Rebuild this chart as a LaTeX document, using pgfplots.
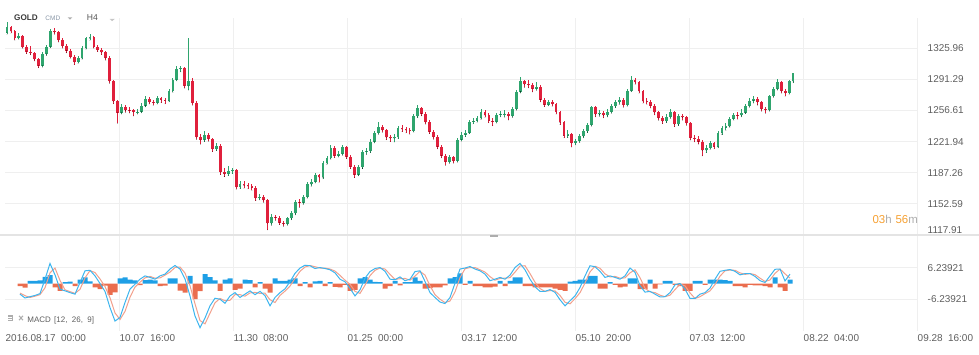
\documentclass[border=0pt]{standalone}
\usepackage{pgfplots}
\pgfplotsset{compat=1.18}
\usepackage{pgfplotstable}
\usepackage{fontspec}
\setmainfont{Liberation Sans}
\definecolor{gridc}{HTML}{EFEFEF}
\definecolor{sepc}{HTML}{E4E4E4}
\definecolor{upc}{HTML}{2FA56E}
\definecolor{dnc}{HTML}{E0203C}
\definecolor{macdc}{HTML}{3DB5EE}
\definecolor{sigc}{HTML}{F2A08C}
\definecolor{hpos}{HTML}{1E9FE6}
\definecolor{hneg}{HTML}{EA6D4E}
\definecolor{tickc}{HTML}{5E5E5E}
\definecolor{orangec}{HTML}{F6A031}
\definecolor{lgray}{HTML}{ADADAD}
\definecolor{hdrc}{HTML}{3A3A3A}
\definecolor{cmdc}{HTML}{8795A5}

\pgfplotstableread{
o h l c
1343.5 1355.6 1341.8 1349.7
1349.7 1351.3 1342.9 1345.2
1345.2 1346.8 1335.1 1337.4
1337.4 1342.6 1336.0 1339.7
1339.7 1341.2 1325.9 1327.4
1327.4 1329.9 1320.1 1322.2
1322.2 1328.4 1318.8 1320.7
1320.7 1322.3 1311.9 1313.5
1313.5 1315.2 1304.3 1306.8
1306.8 1321.4 1305.0 1319.6
1319.6 1330.0 1318.2 1327.8
1327.8 1347.9 1326.5 1345.2
1345.2 1348.7 1341.6 1344.0
1344.0 1345.3 1333.0 1335.2
1335.2 1337.4 1326.2 1328.5
1328.5 1330.6 1321.0 1323.5
1323.5 1325.1 1314.7 1316.3
1316.3 1318.9 1307.9 1310.7
1310.7 1317.2 1309.1 1314.8
1314.8 1328.1 1313.6 1326.3
1326.3 1339.0 1325.0 1336.9
1336.9 1341.6 1334.8 1338.9
1338.9 1340.2 1325.8 1327.4
1327.4 1329.5 1322.2 1324.1
1324.1 1326.8 1318.9 1321.3
1321.3 1322.7 1312.8 1315.2
1315.2 1316.9 1287.0 1289.5
1289.5 1291.0 1264.2 1266.7
1266.7 1268.3 1242.4 1254.4
1254.4 1263.5 1252.8 1260.6
1260.6 1262.4 1254.6 1256.9
1256.9 1260.1 1253.9 1256.7
1256.7 1258.4 1250.6 1255.0
1255.0 1258.2 1252.7 1255.5
1255.5 1264.6 1254.1 1262.2
1262.2 1272.9 1260.8 1270.0
1270.0 1271.7 1263.9 1266.1
1266.1 1268.6 1262.4 1265.3
1265.3 1273.2 1263.8 1270.6
1270.6 1272.0 1265.5 1268.4
1268.4 1270.9 1264.1 1267.6
1267.6 1280.1 1266.3 1278.4
1278.4 1293.0 1276.9 1291.2
1291.2 1306.4 1289.6 1302.9
1302.9 1306.0 1299.8 1303.5
1303.5 1305.1 1281.7 1284.0
1284.0 1337.4 1279.5 1289.0
1289.0 1293.1 1262.6 1265.0
1265.0 1267.2 1224.5 1227.1
1227.1 1230.4 1219.1 1223.8
1223.8 1233.6 1222.0 1228.8
1228.8 1231.2 1222.4 1224.9
1224.9 1226.3 1210.8 1213.7
1213.7 1220.8 1211.9 1217.6
1217.6 1219.0 1185.2 1188.1
1188.1 1192.8 1183.1 1185.9
1185.9 1194.5 1184.0 1189.2
1189.2 1193.0 1186.4 1189.8
1189.8 1191.3 1168.9 1171.4
1171.4 1178.0 1169.5 1175.3
1175.3 1177.6 1170.2 1173.1
1173.1 1176.3 1169.4 1172.5
1172.5 1174.9 1167.7 1170.8
1170.8 1172.2 1156.2 1159.1
1159.1 1163.3 1157.0 1160.5
1160.5 1162.8 1154.4 1156.9
1156.9 1158.3 1123.6 1130.9
1130.9 1141.0 1128.7 1138.5
1138.5 1140.6 1134.2 1137.4
1137.4 1139.3 1129.4 1131.8
1131.8 1134.0 1127.6 1130.2
1130.2 1138.4 1128.8 1136.3
1136.3 1144.6 1134.9 1141.9
1141.9 1157.1 1140.4 1155.2
1155.2 1158.0 1148.6 1153.9
1153.9 1162.6 1152.2 1160.3
1160.3 1176.5 1158.9 1174.2
1174.2 1180.4 1172.0 1177.5
1177.5 1187.0 1175.8 1184.8
1184.8 1186.4 1176.6 1182.0
1182.0 1200.3 1180.4 1198.1
1198.1 1206.0 1196.5 1203.4
1203.4 1217.8 1202.1 1214.9
1214.9 1216.6 1204.0 1206.5
1206.5 1211.4 1204.7 1208.2
1208.2 1218.3 1206.6 1215.8
1215.8 1217.2 1203.0 1205.2
1205.2 1206.8 1191.9 1194.2
1194.2 1195.9 1181.8 1185.3
1185.3 1196.2 1183.9 1193.6
1193.6 1212.9 1192.0 1210.6
1210.6 1215.1 1207.9 1211.5
1211.5 1224.6 1209.7 1222.1
1222.1 1233.9 1220.5 1231.6
1231.6 1243.4 1230.0 1238.6
1238.6 1241.0 1232.2 1234.9
1234.9 1236.5 1224.1 1226.6
1226.6 1229.8 1222.0 1225.7
1225.7 1230.4 1221.5 1227.0
1227.0 1239.2 1225.4 1236.8
1236.8 1240.3 1233.2 1236.0
1236.0 1238.1 1231.7 1234.9
1234.9 1237.5 1230.2 1233.8
1233.8 1252.4 1232.5 1250.0
1250.0 1262.7 1248.6 1258.9
1258.9 1260.5 1250.8 1253.3
1253.3 1255.0 1241.5 1243.8
1243.8 1245.6 1230.9 1233.2
1233.2 1235.0 1224.6 1227.1
1227.1 1228.9 1214.0 1216.5
1216.5 1218.2 1203.9 1206.2
1206.2 1207.8 1195.5 1199.3
1199.3 1207.3 1197.6 1204.3
1204.3 1206.2 1198.0 1200.4
1200.4 1226.0 1199.1 1224.3
1224.3 1232.4 1222.6 1229.7
1229.7 1234.8 1227.5 1232.1
1232.1 1246.6 1230.8 1244.3
1244.3 1248.7 1241.8 1245.5
1245.5 1251.0 1243.4 1248.3
1248.3 1258.2 1246.9 1254.6
1254.6 1256.7 1249.0 1251.6
1251.6 1253.5 1243.0 1245.4
1245.4 1248.0 1239.7 1244.2
1244.2 1254.3 1242.6 1252.0
1252.0 1256.1 1249.5 1252.8
1252.8 1256.9 1249.2 1253.3
1253.3 1255.4 1246.1 1250.5
1250.5 1260.8 1249.0 1258.3
1258.3 1279.5 1257.0 1277.8
1277.8 1294.0 1276.2 1289.0
1289.0 1291.2 1282.5 1285.8
1285.8 1290.6 1281.9 1285.1
1285.1 1287.0 1277.4 1280.8
1280.8 1287.9 1279.0 1283.4
1283.4 1284.9 1266.2 1268.9
1268.9 1271.0 1261.0 1263.3
1263.3 1268.9 1261.8 1266.1
1266.1 1268.2 1261.4 1263.9
1263.9 1265.3 1252.6 1255.0
1255.0 1256.6 1240.9 1243.3
1243.3 1245.0 1226.1 1228.6
1228.6 1234.8 1226.4 1230.5
1230.5 1232.0 1215.9 1220.4
1220.4 1225.4 1218.3 1222.7
1222.7 1230.0 1221.0 1227.7
1227.7 1235.9 1226.2 1233.5
1233.5 1242.8 1232.0 1240.5
1240.5 1262.1 1239.2 1260.0
1260.0 1261.8 1249.6 1252.2
1252.2 1257.6 1250.1 1254.4
1254.4 1256.0 1248.4 1251.1
1251.1 1258.2 1249.5 1255.0
1255.0 1263.7 1253.6 1261.4
1261.4 1268.8 1259.8 1265.9
1265.9 1271.3 1263.6 1268.4
1268.4 1270.2 1260.1 1262.8
1262.8 1280.8 1261.4 1278.9
1278.9 1294.8 1277.5 1290.6
1290.6 1292.7 1285.9 1288.4
1288.4 1289.9 1276.0 1278.4
1278.4 1279.8 1264.9 1267.2
1267.2 1270.1 1263.5 1266.3
1266.3 1268.5 1259.4 1262.2
1262.2 1263.7 1251.8 1254.5
1254.5 1256.1 1245.6 1248.3
1248.3 1250.5 1242.0 1244.7
1244.7 1252.3 1243.2 1249.4
1249.4 1257.9 1247.9 1255.0
1255.0 1256.5 1238.6 1241.1
1241.1 1252.6 1239.8 1250.0
1250.0 1253.2 1246.0 1248.9
1248.9 1250.4 1240.1 1242.7
1242.7 1244.1 1223.8 1226.2
1226.2 1229.5 1221.7 1224.9
1224.9 1227.8 1219.3 1222.1
1222.1 1223.6 1206.0 1212.1
1212.1 1218.5 1209.8 1214.9
1214.9 1223.2 1213.3 1220.1
1220.1 1221.8 1213.9 1216.5
1216.5 1233.4 1215.0 1231.6
1231.6 1239.8 1229.9 1237.5
1237.5 1242.3 1234.6 1239.0
1239.0 1249.6 1237.8 1247.5
1247.5 1254.2 1245.9 1251.6
1251.6 1254.9 1247.1 1251.3
1251.3 1257.8 1249.5 1254.4
1254.4 1264.3 1253.1 1261.7
1261.7 1270.5 1260.2 1267.7
1267.7 1273.1 1265.0 1270.0
1270.0 1271.4 1262.8 1266.1
1266.1 1267.5 1255.9 1258.3
1258.3 1260.4 1253.6 1257.2
1257.2 1274.3 1256.0 1272.6
1272.6 1283.1 1271.2 1280.6
1280.6 1291.5 1279.3 1288.1
1288.1 1289.7 1276.0 1278.4
1278.4 1280.3 1272.6 1276.2
1276.2 1291.1 1274.8 1289.0
1289.0 1298.8 1287.6 1297.9
}\candles

\pgfplotstableread{
x m s h
20 -4.2 -3.8 -1.0
25 -5.7 -4.8 -1.6
30 -5.2 -5.5 1.0
35 -4.7 -5.0 1.0
40 -4.0 -4.4 1.2
45 1.7 -1.7 2.6
50 7.9 4.2 3.3
55 3.4 6.1 -1.5
60 -2.2 1.2 -2.9
65 -2.9 -2.5 0.5
70 -3.6 -3.2 0.7
75 -4.2 -3.9 -1.0
80 0.4 -2.3 1.5
85 5.0 2.2 2.4
90 5.2 5.1 0.8
95 3.0 4.3 -1.5
100 0.0 1.8 -2.2
105 -3.1 -1.2 -0.8
110 -9.5 -5.6 -4.5
115 -14.8 -11.6 -3.5
120 -13.4 -14.2 2.0
125 -7.5 -11.0 2.4
130 -2.2 -5.4 1.5
135 -0.3 -1.4 1.2
140 1.7 0.5 -0.6
145 3.0 2.2 1.3
150 2.4 2.8 1.5
155 1.7 2.1 1.2
160 3.0 2.2 -1.0
165 3.7 3.3 -0.8
170 5.7 4.5 2.0
175 7.1 6.3 2.0
180 5.7 6.5 -2.8
185 1.8 4.1 -3.6
190 -4.9 -0.9 3.0
195 -12.8 -8.0 -6.2
200 -17.4 -14.6 -3.0
205 -13.6 -15.9 3.7
210 -8.8 -11.7 2.5
215 -5.8 -7.6 1.2
220 -6.2 -5.9 -2.9
225 -7.8 -6.8 1.5
230 -4.9 -6.6 2.0
235 -3.6 -4.4 -2.5
240 -5.5 -4.4 -2.0
245 -4.2 -5.0 1.5
250 -2.9 -3.7 1.3
255 -4.4 -3.5 -1.5
260 -3.1 -3.9 0.5
265 -4.8 -3.8 -2.0
270 -8.8 -6.4 -3.6
275 -5.5 -7.5 2.0
280 -3.6 -4.7 1.0
285 -2.1 -3.0 1.0
290 0.7 -1.0 1.5
295 4.0 2.0 2.0
300 6.1 4.8 -1.0
305 7.2 6.5 0.5
310 7.0 7.1 -1.5
315 5.9 6.6 0.8
320 6.3 6.1 1.0
325 5.9 6.1 -1.0
330 5.4 5.7 0.5
335 4.2 4.9 -1.3
340 1.7 3.2 -1.5
345 0.7 1.3 -0.5
350 -1.9 -0.3 -2.9
355 -4.9 -3.1 -2.5
360 -2.5 -3.9 2.0
365 2.1 -0.7 2.5
370 4.7 3.1 1.5
375 5.9 5.2 0.6
380 6.3 6.1 0.5
385 4.8 5.7 -2.0
390 1.7 3.6 -1.0
395 1.5 1.6 1.0
400 2.6 1.9 -0.7
405 1.1 2.0 0.5
410 1.7 1.3 0.5
415 4.7 2.9 2.4
420 5.0 4.8 1.0
425 0.8 3.3 -2.0
430 -3.6 -0.9 -1.8
435 -5.5 -4.4 -1.5
440 -7.3 -6.2 -1.5
445 -7.9 -7.5 -0.7
450 -5.5 -6.9 2.0
455 0.1 -3.3 2.5
460 5.7 2.3 4.0
465 6.1 5.8 -0.5
470 6.7 6.3 1.0
475 5.7 6.3 -1.0
480 5.0 5.4 -1.0
485 3.7 4.5 -1.5
490 1.1 2.7 -1.5
495 1.7 1.3 -1.2
500 2.4 2.0 1.0
505 1.7 2.1 -1.0
510 3.3 2.3 1.0
515 6.3 4.5 2.4
520 7.9 6.9 2.4
525 5.4 7.0 -1.0
530 1.7 3.9 -1.0
535 -1.3 0.5 -1.5
540 -3.1 -2.0 -1.5
545 -3.1 -3.1 -1.5
550 -2.4 -2.8 -1.5
555 -3.5 -2.9 -2.0
560 -6.4 -4.7 -2.5
565 -8.8 -7.4 -2.9
570 -6.8 -8.0 0.7
575 -4.9 -6.0 1.0
580 -1.6 -3.6 1.5
585 3.0 0.2 1.5
590 7.0 4.6 3.0
595 6.6 6.8 3.0
600 4.8 6.0 -2.0
605 2.4 3.8 -2.0
610 3.0 2.6 0.5
615 2.4 2.8 -0.5
620 1.7 2.1 -1.5
625 3.0 2.2 -1.2
630 6.1 4.2 2.0
635 4.4 5.4 2.0
640 -0.9 2.3 -2.2
645 -3.4 -1.9 -2.2
650 -3.1 -3.3 1.5
655 -4.2 -3.6 -2.0
660 -5.3 -4.6 -0.3
665 -5.2 -5.2 1.0
670 -3.6 -4.6 1.0
675 -0.5 -2.4 -0.5
680 0.0 -0.3 -1.0
685 -2.2 -0.9 -2.9
690 -5.9 -3.7 -2.9
695 -5.9 -5.9 1.0
700 -4.2 -5.2 1.0
705 -3.6 -4.0 -0.5
710 -1.8 -2.9 1.5
715 1.7 -0.4 1.5
720 4.8 2.9 1.5
725 5.2 5.0 1.3
730 5.5 5.3 1.0
735 4.8 5.2 -1.0
740 3.4 4.2 -1.0
745 3.9 3.6 -1.5
750 3.9 3.9 -0.5
755 2.8 3.5 -0.7
760 1.1 2.1 -0.7
765 0.4 0.8 -1.0
770 3.0 1.4 -1.5
775 5.6 4.0 2.4
780 5.7 5.7 -1.5
785 1.0 3.8 -2.9
790 3.7 2.1 1.5
}\macd

\newcommand{\tickfont}{\fontsize{10}{12}\selectfont}
\pgfplotsset{candle/.style={only marks, mark=*, mark size=0.01pt,
  mark options={draw=none, fill=none}, forget plot}}

\begin{document}
\begin{tikzpicture}[x=1bp,y=1bp]
\useasboundingbox (0,0) rectangle (979,354);
% ---------- price panel ----------
\begin{axis}[
  at={(5bp,119bp)}, anchor=south west,
  scale only axis, width=913bp, height=217bp,
  xmin=5, xmax=918, ymin=1117.91, ymax=1359.74,
  axis line style={draw=none}, tick style={draw=none},
  xtick={119,233,347,461,575,689,803,917}, xticklabels={},
  ytick={1152.59,1187.26,1221.94,1256.61,1291.29,1325.96},
  yticklabels={1152.59,1187.26,1221.94,1256.61,1291.29,1325.96},
  extra y ticks={1117.91}, extra y tick labels={1117.91},
  extra y tick style={grid=none, yticklabel style={yshift=5.3bp}},
  yticklabel pos=right,
  yticklabel style={anchor=west, inner sep=0pt, xshift=9.5bp, font=\tickfont, text=tickc},
  grid=major, major grid style={draw=gridc, line width=0.9bp},
]
% wicks
\addplot[candle,
  error bars/.cd, y dir=plus, y explicit, error mark=none,
  error bar style={draw=upc, line width=0.9bp}]
  table[x expr=7+3.95*\coordindex, y expr={\thisrow{c}>=\thisrow{o} ? \thisrow{l} : nan},
        y error expr=\thisrow{h}-\thisrow{l}] {\candles};
\addplot[candle,
  error bars/.cd, y dir=plus, y explicit, error mark=none,
  error bar style={draw=dnc, line width=0.9bp}]
  table[x expr=7+3.95*\coordindex, y expr={\thisrow{c}<\thisrow{o} ? \thisrow{l} : nan},
        y error expr=\thisrow{h}-\thisrow{l}] {\candles};
% bodies
\addplot[candle,
  error bars/.cd, y dir=plus, y explicit, error mark=none,
  error bar style={draw=upc, line width=2.8bp}]
  table[x expr=7+3.95*\coordindex, y expr={\thisrow{c}>=\thisrow{o} ? \thisrow{o} : nan},
        y error expr=\thisrow{c}-\thisrow{o}] {\candles};
\addplot[candle,
  error bars/.cd, y dir=plus, y explicit, error mark=none,
  error bar style={draw=dnc, line width=2.8bp}]
  table[x expr=7+3.95*\coordindex, y expr={\thisrow{c}<\thisrow{o} ? \thisrow{c} : nan},
        y error expr=\thisrow{o}-\thisrow{c}] {\candles};
\end{axis}
% ---------- MACD panel ----------
\begin{axis}[
  at={(5bp,23bp)}, anchor=south west,
  scale only axis, width=913bp, height=95bp,
  xmin=5, xmax=918, ymin=-18.71762, ymax=18.71762,
  axis line style={draw=none}, tick style={draw=none},
  xtick={119,233,347,461,575,689,803,917},
  xticklabels={{10.07\hspace{5.5bp}16:00},{11.30\hspace{5.5bp}08:00},{01.25\hspace{5.5bp}00:00},{03.17\hspace{5.5bp}12:00},{05.10\hspace{5.5bp}20:00},{07.03\hspace{5.5bp}12:00},{08.22\hspace{5.5bp}04:00},{09.28\hspace{5.5bp}16:00}},
  extra x ticks={5}, extra x tick labels={{2016.08.17\hspace{5.5bp}00:00}},
  extra x tick style={grid=none},
  xticklabel style={anchor=north west, inner sep=0pt, yshift=-3bp, xshift=0.5bp, font=\tickfont, text=tickc},
  ytick={-6.23921,6.23921}, yticklabels={-6.23921,6.23921},
  yticklabel pos=right,
  yticklabel style={anchor=west, inner sep=0pt, xshift=9.5bp, font=\tickfont, text=tickc},
  grid=major, major grid style={draw=gridc, line width=0.9bp},
]
\addplot[ybar, bar width=5, bar shift=0pt, fill=hpos, draw=none, forget plot,
  restrict y to domain=0:30] table[x=x, y=h] {\macd};
\addplot[ybar, bar width=5, bar shift=0pt, fill=hneg, draw=none, forget plot,
  restrict y to domain=-30:0] table[x=x, y=h] {\macd};
\addplot[sigc, line width=1bp, mark=none] table[x=x, y=s] {\macd};
\addplot[macdc, line width=1bp, mark=none] table[x=x, y=m] {\macd};
\node[anchor=west, inner sep=0pt, xshift=9.5bp, yshift=-6bp, font=\tickfont, text=tickc] at (rel axis cs:1,1) {18.71762};
\node[anchor=west, inner sep=0pt, xshift=9.5bp, yshift=5bp, font=\tickfont, text=tickc] at (rel axis cs:1,0) {-18.71762};
\end{axis}
% separator and handle
\fill[sepc] (0,117.6) rectangle (979,119.6);
\fill[lgray] (490,117.2) rectangle (498,118.6);
% header
\node[anchor=base west, inner sep=0pt, text=hdrc, font=\fontsize{8.2}{10}\selectfont\bfseries] at (14,333.3) {GOLD};
\node[anchor=base west, inner sep=0pt, text=cmdc, font=\fontsize{6.5}{8}\selectfont] at (45.3,333.3) {CMD};
\fill[lgray] (67.6,336.7) -- (72.4,336.7) -- (70,334.3) -- cycle;
\node[anchor=base west, inner sep=0pt, text=hdrc!85, font=\fontsize{8.6}{10}\selectfont] at (86.7,333.3) {H4};
\fill[lgray!70] (109.5,335.2) -- (114.8,335.2) -- (112.15,332.8) -- cycle;
% countdown
\node[anchor=base west, inner sep=0pt, font=\fontsize{11.5}{13}\selectfont] at (872.3,130.7)
  {\textcolor{orangec}{03}\textcolor{lgray}{h}\hspace{4bp}\textcolor{orangec}{56}\textcolor{lgray}{m}};
% MACD legend
\fill[lgray] (7.5,33) rectangle (13.3,38.8);
\draw[white, line width=0.6bp] (8.4,35.2) -- (12.4,35.2) (8.4,36.9) -- (12.4,36.9);
\draw[lgray, line width=1.1bp] (19,38.2) -- (23,33.8) (19,33.8) -- (23,38.2);
\node[anchor=base west, inner sep=0pt, text=tickc, font=\fontsize{8}{10}\selectfont] at (27.3,31.8) {MACD};
\node[anchor=base west, inner sep=0pt, text=tickc, font=\fontsize{8}{10}\selectfont] at (54,31.8) {[12,\ \ 26,\ \ 9]};
\end{tikzpicture}
\end{document}
